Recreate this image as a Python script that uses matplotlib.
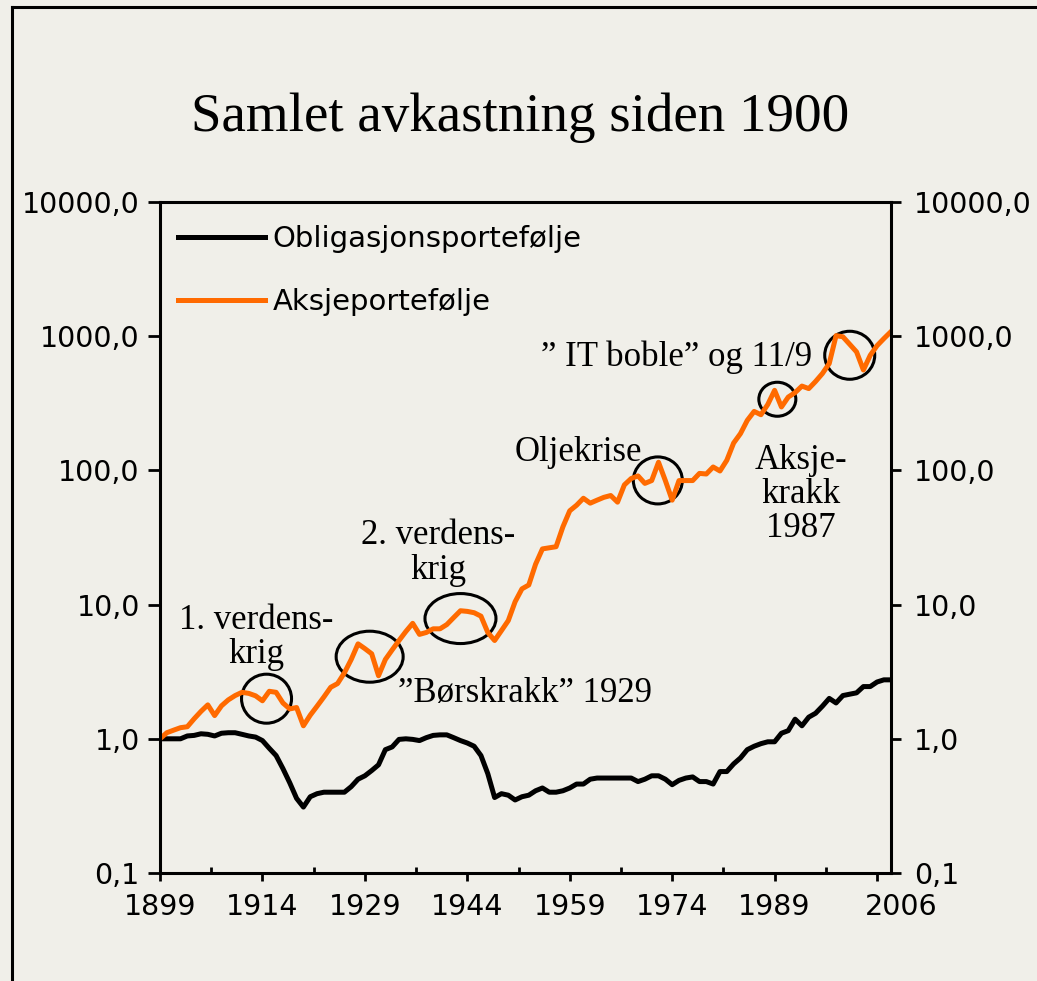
import matplotlib
matplotlib.use('Agg')
import matplotlib.pyplot as plt
from matplotlib.patches import Ellipse
from matplotlib.lines import Line2D
from matplotlib.transforms import ScaledTranslation
from matplotlib.ticker import FuncFormatter, FixedLocator

# data (index, 1899 = 1)
years = list(range(1899, 2007))

aksjer = [1.0, 1.11, 1.16, 1.21, 1.23, 1.41, 1.6, 1.79, 1.49, 1.76,
          1.95, 2.1, 2.22, 2.18, 2.09, 1.92, 2.26, 2.22, 1.85, 1.67,
          1.71, 1.25, 1.5, 1.75, 2.05, 2.42, 2.58, 3.1, 3.9, 5.1,
          4.7, 4.3, 2.95, 3.9, 4.6, 5.4, 6.3, 7.25, 6.0, 6.2,
          6.6, 6.6, 7.1, 8.0, 9.0, 8.9, 8.7, 8.2, 6.2, 5.4,
          6.4, 7.6, 10.5, 13.1, 14.0, 20.0, 26.0, 26.5, 27.0, 38.0,
          50, 55, 62, 57, 60, 63, 65, 58, 78, 87,
          91, 80, 84, 115, 84, 60, 84, 84, 84, 95,
          94, 106, 99, 119, 160, 188, 236, 275, 260, 310,
          395, 297, 352, 380, 425, 407, 460, 527, 626, 1010,
          990, 870, 764, 560, 720, 850, 960, 1077]

obligasjoner = [1.0, 1.0, 1.0, 1.0, 1.05, 1.06, 1.09, 1.08, 1.05, 1.1,
                1.11, 1.11, 1.08, 1.05, 1.03, 0.97, 0.85, 0.75, 0.6, 0.47,
                0.36, 0.31, 0.37, 0.39, 0.40, 0.40, 0.40, 0.40, 0.44, 0.50,
                0.53, 0.58, 0.64, 0.83, 0.87, 0.99, 1.0, 0.99, 0.97, 1.02,
                1.06, 1.07, 1.07, 1.02, 0.97, 0.93, 0.88, 0.75, 0.55, 0.365,
                0.39, 0.38, 0.35, 0.37, 0.38, 0.41, 0.43, 0.40, 0.40, 0.41,
                0.43, 0.46, 0.46, 0.50, 0.51, 0.51, 0.51, 0.51, 0.51, 0.51,
                0.48, 0.50, 0.53, 0.53, 0.50, 0.455, 0.49, 0.51, 0.52, 0.48,
                0.48, 0.46, 0.57, 0.57, 0.65, 0.72, 0.83, 0.88, 0.92, 0.95,
                0.95, 1.1, 1.15, 1.4, 1.25, 1.45, 1.55, 1.75, 2.0, 1.85,
                2.1, 2.15, 2.2, 2.45, 2.45, 2.65, 2.75, 2.75]

year_ticks = [1899, 1914, 1929, 1944, 1959, 1974, 1989, 2004]
year_labels = ['1899', '1914', '1929', '1944', '1959', '1974', '1989', '2006']
y_ticks = [0.1, 1, 10, 100, 1000, 10000]

# annotations: text, year, value
notes = [('1. verdens-\nkrig', 1913.1, 5.7),
         ('2. verdens-\nkrig', 1939.7, 24.2),
         ('\u201dBørskrakk\u201d 1929', 1952.5, 2.17),
         ('Oljekrise', 1960.2, 136),
         ('\u201d IT boble\u201d og 11/9', 1974.6, 696),
         ('Aksje-\nkrakk\n1987', 1992.9, 66)]

# circles: year, value, width px, height px
circles = [(1914.6, 1.99, 50, 49),
           (1929.7, 4.09, 67, 51),
           (1943.0, 7.87, 71, 50),
           (1971.9, 84.2, 49, 47),
           (1989.4, 339, 37, 34),
           (2000.0, 721, 50, 48)]

bg = '#f0efe9'
orange = '#ff6a00'

fig = plt.figure(figsize=(10.37, 9.81), dpi=100, facecolor=bg)
ax = fig.add_axes([160/1037, 108/981, 730.7/1037, 671/981])
ax.set_facecolor(bg)

ax.plot(years, obligasjoner, color='black', lw=3.6, label='Obligasjonsportefølje')
ax.plot(years, aksjer, color=orange, lw=3.6, label='Aksjeportefølje')

ax.set_yscale('log')
ax.set_ylim(0.1, 10000)
ax.set_xlim(1899, 2006)

ax.yaxis.set_major_locator(FixedLocator(y_ticks))
ax.yaxis.set_minor_locator(FixedLocator([]))
ax.yaxis.set_major_formatter(FuncFormatter(lambda v, p: f'{v:.1f}'.replace('.', ',')))
ax.set_xticks(year_ticks)
ax.set_xticklabels(year_labels)
ax.set_xticks([y + 7.5 for y in year_ticks[:-1]], minor=True)

for s in ax.spines.values():
    s.set_linewidth(2.2)

ax.tick_params(axis='y', which='major', direction='out', length=8.5, width=2,
               labelsize=20.5, left=True, right=True, labelleft=True, labelright=True)
ax.yaxis.set_tick_params(which='major', pad=6)
for t in ax.yaxis.get_major_ticks():
    t.tick2line.set_markersize(7.5)
    t.label2.set_transform(t.label2.get_transform() + ScaledTranslation(0.03, 0, fig.dpi_scale_trans))
ax.tick_params(axis='x', which='major', direction='out', length=5.5, width=2, labelsize=20.5, pad=9)
ax.tick_params(axis='x', which='minor', direction='in', length=4, width=2)

# last label sits right of its tick
lab = ax.get_xticklabels()[-1]
lab.set_transform(lab.get_transform() + ScaledTranslation(0.24, 0, fig.dpi_scale_trans))

leg = ax.legend(loc='upper left', bbox_to_anchor=(0.0246, 0.966), frameon=False,
                fontsize=21, handlelength=3.0, handletextpad=0.25, labelspacing=1.22,
                borderpad=0, borderaxespad=0)

for txt, x, y in notes:
    ax.text(x, y, txt, ha='center', va='center', family='Liberation Serif',
            fontsize=25, linespacing=1.05)

for x, y, w, h in circles:
    e = Ellipse((0, 0), w / 100, h / 100, fill=False, edgecolor='black', lw=2.2,
                transform=fig.dpi_scale_trans + ScaledTranslation(x, y, ax.transData))
    ax.add_patch(e)

fig.text(520/1037, 1 - 118/981, 'Samlet avkastning siden 1900', ha='center', va='center',
         family='Liberation Serif', fontsize=39.6)

# frame on left and top
fig.add_artist(Line2D([12/1037, 12/1037], [0, 1 - 7/981], color='black', lw=2.2))
fig.add_artist(Line2D([12/1037, 1], [1 - 7/981, 1 - 7/981], color='black', lw=2.2))

fig.savefig('out.png', dpi=100, facecolor=bg)
